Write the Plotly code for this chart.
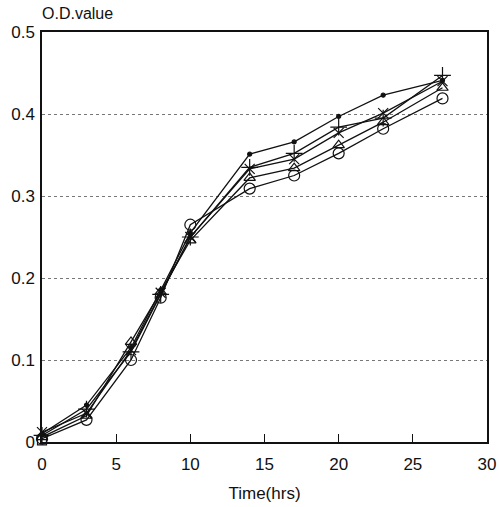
import plotly.graph_objects as go

time_hrs = [0, 3, 6, 8, 10, 14, 17, 20, 23, 27]
series_dot = [0.010, 0.045, 0.115, 0.185, 0.255, 0.351, 0.366, 0.397, 0.423, 0.441]
series_plus = [0.008, 0.040, 0.110, 0.180, 0.250, 0.335, 0.352, 0.384, 0.395, 0.447]
series_x = [0.012, 0.035, 0.112, 0.182, 0.250, 0.333, 0.345, 0.377, 0.401, 0.440]
series_tri = [0.006, 0.032, 0.122, 0.183, 0.246, 0.322, 0.334, 0.362, 0.390, 0.432]
series_circle = [0.004, 0.027, 0.100, 0.176, 0.265, 0.309, 0.325, 0.352, 0.382, 0.419]
square_t = [0]
square_v = [0.002]

y_ticks = [0, 0.1, 0.2, 0.3, 0.4, 0.5]
y_labels = ["0", "0.1", "0.2", "0.3", "0.4", "0.5"]
x_ticks = [0, 5, 10, 15, 20, 25, 30]

fig = go.Figure()
specs = [
    (series_dot, "circle", 4),
    (series_plus, "cross-thin-open", 12),
    (series_x, "x-thin-open", 10),
    (series_tri, "triangle-up-open", 10),
    (series_circle, "circle-open", 11),
]
for vals, sym, sz in specs:
    fig.add_trace(go.Scatter(
        x=time_hrs, y=vals, mode="lines+markers",
        line=dict(color="#111111", width=1.3),
        marker=dict(symbol=sym, size=sz, color="#111111",
                    line=dict(color="#111111", width=1.2)),
        showlegend=False, cliponaxis=False,
    ))
fig.add_trace(go.Scatter(
    x=square_t, y=square_v, mode="markers",
    marker=dict(symbol="square-open", size=9, color="#111111",
                line=dict(color="#111111", width=1.2)),
    showlegend=False, cliponaxis=False,
))

fig.update_layout(
    width=499, height=507,
    margin=dict(l=42, r=12, t=32, b=65),
    paper_bgcolor="white", plot_bgcolor="white",
    font=dict(family="Liberation Sans, Arial, sans-serif", color="#111111", size=17),
    annotations=[dict(text="O.D.value", xref="paper", yref="paper", x=0, y=1,
                      xanchor="left", yanchor="bottom", yshift=8, xshift=-2,
                      showarrow=False, font=dict(size=16))],
)
fig.update_xaxes(
    range=[0, 30], tickvals=x_ticks, ticks="inside", ticklen=8, tickwidth=1.2,
    tickcolor="#111111", showgrid=False, zeroline=False, automargin=False,
    ticklabelstandoff=6,
    showline=True, linecolor="#111111", linewidth=1.5, mirror=True,
    title=dict(text="Time(hrs)", font=dict(size=17), standoff=14),
)
fig.update_yaxes(
    range=[0, 0.5], tickvals=y_ticks, ticktext=y_labels, ticks="",
    showgrid=True, gridcolor="#777777", griddash="dot", gridwidth=1,
    automargin=False, ticklabelstandoff=2,
    zeroline=False, showline=True, linecolor="#111111", linewidth=1.5, mirror=True,
)

fig.write_html("out.html", config={"displayModeBar": False},
               post_script="document.body.style.margin='0';document.body.style.padding='0';")
